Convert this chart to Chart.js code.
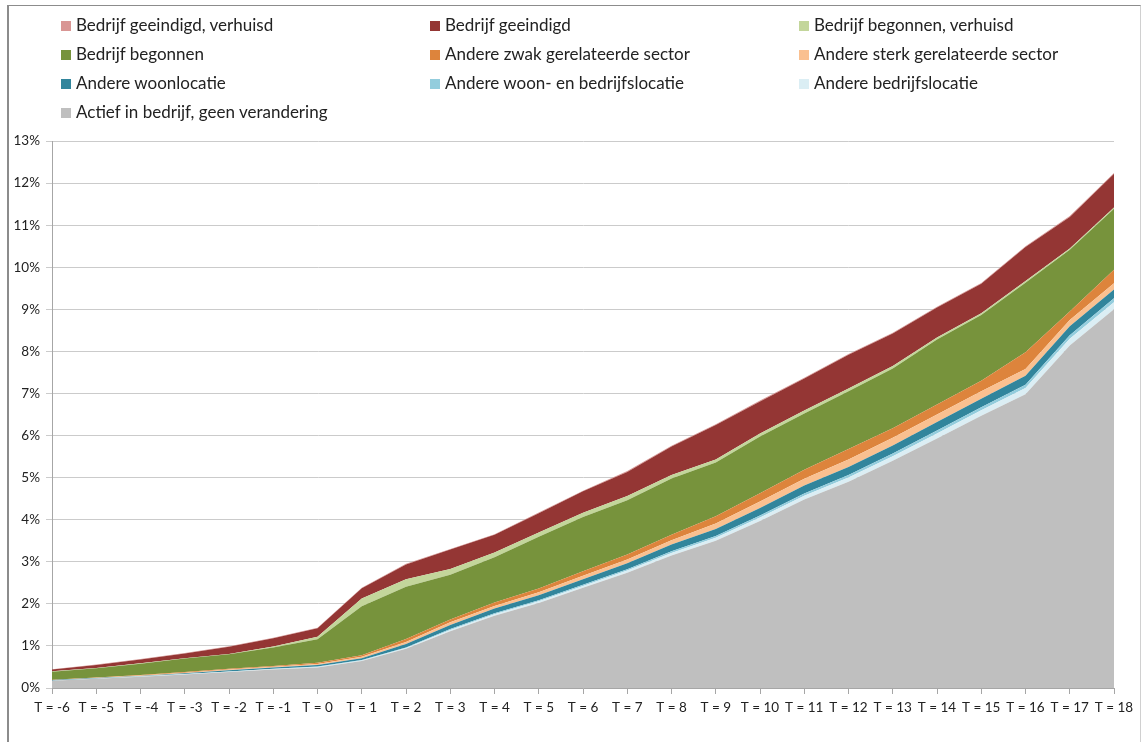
<!DOCTYPE html>
<html>
<head>
<meta charset="utf-8">
<script src="https://cdn.jsdelivr.net/npm/chart.js@4/dist/chart.umd.min.js"></script>
<style>
  html, body { margin: 0; padding: 0; background: #fff; }
  #wrap { position: relative; width: 1141px; height: 742px; overflow: hidden; background: #fff; }
  #frame { position: absolute; left: 7px; top: 5px; width: 1131px; height: 760px;
           border-top: 1px solid #8c8c8c; border-left: 2px solid #8c8c8c; border-right: 1px solid #d0d0d0; }
  #c { position: absolute; left: 0; top: 0; }
  .lg { position: absolute; font-family: Lato, "Open Sans", sans-serif; font-size: 17px; color: #222;
        white-space: nowrap; line-height: 20px; }
  .lg span.box { position: absolute; width: 10px; height: 10px; left: -15.5px; top: 5.5px; }
</style>
</head>
<body>
<div id="wrap">
  <div id="frame"></div>
  <canvas id="c" width="1141" height="742"></canvas>
  <div id="legend"></div>
</div>
<script>
// Categories
const categories = ["T = -6","T = -5","T = -4","T = -3","T = -2","T = -1","T = 0","T = 1","T = 2","T = 3","T = 4","T = 5","T = 6","T = 7","T = 8","T = 9","T = 10","T = 11","T = 12","T = 13","T = 14","T = 15","T = 16","T = 17","T = 18"];

// Series values (percent), stacked bottom to top
const actiefGeenVerandering = [0.17,0.22,0.27,0.32,0.38,0.44,0.49,0.64,0.93,1.35,1.72,2.02,2.38,2.74,3.15,3.50,3.97,4.48,4.90,5.40,5.93,6.47,6.98,8.14,9.00];
const andereBedrijfslocatie = [0.005,0.005,0.005,0.01,0.01,0.01,0.01,0.015,0.02,0.03,0.035,0.04,0.045,0.05,0.06,0.07,0.08,0.09,0.10,0.11,0.12,0.13,0.15,0.16,0.17];
const andereWoonEnBedrijfslocatie = [0.003,0.003,0.003,0.005,0.005,0.005,0.008,0.01,0.015,0.02,0.02,0.025,0.03,0.035,0.04,0.045,0.05,0.055,0.06,0.065,0.07,0.075,0.08,0.085,0.09];
const andereWoonlocatie = [0.01,0.01,0.01,0.015,0.025,0.03,0.04,0.045,0.08,0.10,0.115,0.12,0.13,0.14,0.16,0.165,0.18,0.19,0.19,0.19,0.20,0.20,0.21,0.21,0.21];
const andereSterkGerelateerd = [0.005,0.005,0.01,0.015,0.02,0.02,0.02,0.03,0.05,0.06,0.06,0.07,0.08,0.09,0.10,0.13,0.15,0.16,0.18,0.18,0.18,0.18,0.16,0.15,0.15];
const andereZwakGerelateerd = [0.005,0.005,0.01,0.015,0.02,0.02,0.03,0.04,0.07,0.07,0.08,0.09,0.11,0.12,0.13,0.17,0.20,0.21,0.25,0.23,0.24,0.25,0.40,0.20,0.32];
const bedrijfBegonnen = [0.19,0.22,0.27,0.32,0.34,0.44,0.56,1.16,1.24,1.06,1.08,1.23,1.29,1.29,1.34,1.28,1.35,1.34,1.37,1.42,1.54,1.56,1.65,1.47,1.45];
const bedrijfBegonnenVerhuisd = [0.01,0.01,0.01,0.01,0.01,0.02,0.06,0.19,0.18,0.14,0.11,0.10,0.10,0.10,0.08,0.07,0.07,0.07,0.07,0.06,0.05,0.04,0.04,0.03,0.03];
const bedrijfGeeindigd = [0.04,0.07,0.09,0.11,0.17,0.20,0.20,0.24,0.35,0.46,0.42,0.46,0.51,0.57,0.68,0.82,0.76,0.76,0.80,0.77,0.71,0.70,0.81,0.75,0.80];
const bedrijfGeeindigdVerhuisd = [0.01,0.01,0.01,0.01,0.01,0.01,0.015,0.015,0.015,0.015,0.015,0.015,0.015,0.02,0.02,0.02,0.02,0.02,0.02,0.02,0.02,0.02,0.02,0.02,0.02];

// Y tick labels
const yTickValues = [0,1,2,3,4,5,6,7,8,9,10,11,12,13];
const yTickLabels = ["0%","1%","2%","3%","4%","5%","6%","7%","8%","9%","10%","11%","12%","13%"];

const series = [
  { label: "Actief in bedrijf, geen verandering", data: actiefGeenVerandering, color: "#bfbfbf" },
  { label: "Andere bedrijfslocatie", data: andereBedrijfslocatie, color: "#dbeef4" },
  { label: "Andere woon- en bedrijfslocatie", data: andereWoonEnBedrijfslocatie, color: "#93cddd" },
  { label: "Andere woonlocatie", data: andereWoonlocatie, color: "#31859c" },
  { label: "Andere sterk gerelateerde sector", data: andereSterkGerelateerd, color: "#fac090" },
  { label: "Andere zwak gerelateerde sector", data: andereZwakGerelateerd, color: "#dd843c" },
  { label: "Bedrijf begonnen", data: bedrijfBegonnen, color: "#77933c" },
  { label: "Bedrijf begonnen, verhuisd", data: bedrijfBegonnenVerhuisd, color: "#c3d69b" },
  { label: "Bedrijf geeindigd", data: bedrijfGeeindigd, color: "#943634" },
  { label: "Bedrijf geeindigd, verhuisd", data: bedrijfGeeindigdVerhuisd, color: "#d99694" }
];

// HTML legend (grid of 3 columns, top layer first)
const legendOrder = series.slice().reverse();
const colX = [76, 445, 814];
const rowCenter = [25, 54, 83, 112];
const legendEl = document.getElementById('legend');
legendOrder.forEach((s, i) => {
  const d = document.createElement('div');
  d.className = 'lg';
  d.style.left = colX[i % 3] + 'px';
  d.style.top = (rowCenter[Math.floor(i / 3)] - 10) + 'px';
  const b = document.createElement('span');
  b.className = 'box';
  b.style.background = s.color;
  d.appendChild(b);
  d.appendChild(document.createTextNode(s.label));
  legendEl.appendChild(d);
});

const tickFont = { family: "Lato, 'Open Sans', sans-serif", size: 13.5 };

new Chart(document.getElementById('c'), {
  type: 'line',
  data: {
    labels: categories,
    datasets: series.map((s, i) => ({
      label: s.label,
      data: s.data,
      backgroundColor: s.color,
      borderColor: s.color,
      borderWidth: 0,
      pointRadius: 0,
      tension: 0,
      fill: i === 0 ? 'origin' : '-1'
    }))
  },
  options: {
    responsive: false,
    animation: false,
    devicePixelRatio: 1,
    layout: { padding: { top: 141, right: 27, left: 0, bottom: 0 } },
    plugins: { legend: { display: false }, tooltip: { enabled: false }, title: { display: false } },
    scales: {
      x: {
        type: 'category',
        offset: false,
        grid: { display: true, drawOnChartArea: false, drawTicks: true, tickLength: 6, color: '#a6a6a6' },
        border: { display: true, color: '#a6a6a6' },
        ticks: { color: '#222', font: tickFont, maxRotation: 0, autoSkip: false, padding: 6 },
        afterFit: s => { s.height = 54; }
      },
      y: {
        stacked: true,
        min: 0,
        max: 13,
        afterBuildTicks: s => { s.ticks = yTickValues.map(v => ({ value: v })); },
        grid: { color: '#cbcbcb', lineWidth: 1, tickLength: 6, drawTicks: true },
        border: { display: true, color: '#a6a6a6' },
        ticks: { color: '#222', font: tickFont, padding: 6,
                 callback: (v, idx) => yTickLabels[yTickValues.indexOf(v)] },
        afterFit: s => { s.width = 52; }
      }
    }
  }
});
</script>
</body>
</html>
